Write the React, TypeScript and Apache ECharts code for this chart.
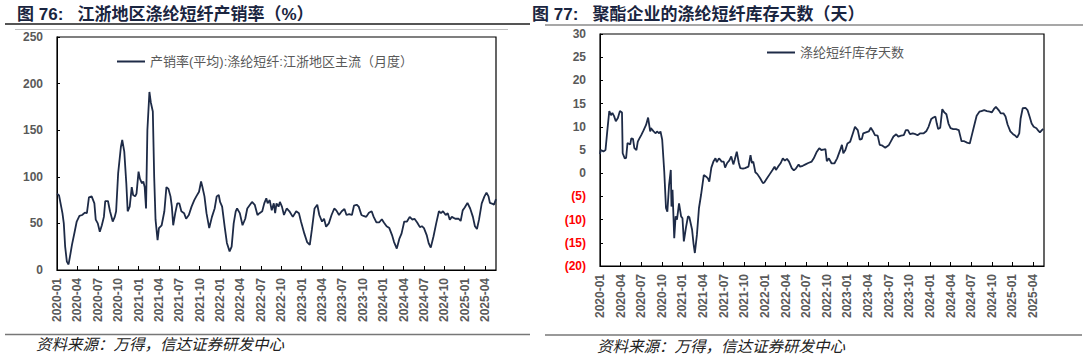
import React, { useEffect, useRef } from "react";
import * as echarts from "echarts";

// ---- Data (x = months since 2020-01, fractional) ----
const salesMonth = [
  0.0, 0.3, 0.8, 1.0, 1.2, 1.45, 1.7, 1.9, 2.2, 2.6, 2.9, 3.3, 3.7, 4.1, 4.4, 4.7, 5.1, 5.5, 5.7, 6.0,
  6.3, 6.6, 6.9, 7.1, 7.5, 7.8, 8.2, 8.5, 8.7, 9.0, 9.4, 9.6, 9.9, 10.2, 10.4, 10.7, 11.0, 11.2, 11.5, 11.7,
  12.0, 12.2, 12.5, 12.7, 12.9, 13.1, 13.3, 13.6, 13.8, 14.1, 14.3, 14.5, 14.8, 15.0, 15.4, 15.8, 16.1, 16.4, 16.7, 16.9,
  17.1, 17.4, 17.7, 18.0, 18.3, 18.7, 19.0, 19.4, 19.8, 20.2, 20.5, 20.9, 21.2, 21.4, 21.7, 22.0, 22.4, 22.8, 23.2, 23.5,
  23.8, 24.0, 24.3, 24.7, 25.0, 25.4, 25.7, 26.0, 26.3, 26.5, 26.9, 27.3, 27.7, 28.0, 28.4, 28.7, 29.1, 29.5, 29.8, 30.2,
  30.5, 30.8, 31.0, 31.3, 31.6, 31.9, 32.1, 32.3, 32.6, 32.8, 33.1, 33.4, 33.8, 34.2, 34.7, 35.2, 35.6, 35.9, 36.4, 36.8,
  37.2, 37.5, 37.9, 38.3, 38.6, 39.0, 39.3, 39.6, 40.0, 40.4, 40.8, 41.1, 41.5, 41.9, 42.3, 42.6, 43.0, 43.4, 43.7, 44.1,
  44.4, 44.8, 45.1, 45.5, 45.9, 46.3, 46.6, 47.0, 47.4, 47.8, 48.1, 48.5, 48.9, 49.3, 49.6, 50.0, 50.4, 50.7, 51.1, 51.5,
  51.9, 52.3, 52.6, 53.0, 53.4, 53.7, 54.0, 54.4, 54.7, 55.0, 55.4, 55.8, 56.2, 56.5, 56.8, 57.2, 57.5, 57.8, 58.1, 58.6,
  59.1, 59.4, 59.7, 60.0, 60.4, 60.8, 61.2, 61.5, 61.8, 62.1, 62.5, 62.9, 63.2, 63.5, 63.7, 64.1, 64.3, 64.6,
];
const salesRate = [
  82, 80, 61, 50, 25, 9, 6, 14, 27, 41, 52, 58, 59, 61.5, 61, 78, 79, 71.5, 54, 50,
  41, 48, 57, 74, 74, 63, 52, 57, 63, 104, 132, 139.5, 127, 93, 63, 68, 89, 80.5, 79, 82,
  105.5, 98, 93, 95, 89, 66, 150, 191, 180, 170, 100, 54, 32, 45, 48, 63, 89, 87, 79, 68,
  48, 61, 71.5, 71.5, 63, 61, 55, 59, 68, 75, 79, 84, 95, 89, 79, 61, 45, 57, 66, 79,
  80.5, 73, 68, 45, 29, 20, 25, 50, 63, 66, 61, 48, 55, 66, 70, 73, 70, 59, 61, 63,
  71.5, 77, 71.5, 75, 64, 71.5, 61, 71.5, 68, 73, 68, 59, 66, 63, 57, 63, 61, 52, 39, 30,
  27, 43, 66, 70, 59, 52, 55, 46.5, 50, 59, 66, 64, 59, 63, 65.5, 59, 60, 59, 69, 70,
  68, 59, 58, 57, 61.5, 63, 57, 51, 51, 54.5, 51, 47, 45, 37.5, 30, 23, 34, 39, 52, 52,
  57, 54, 55, 51, 46, 47, 45, 37.5, 28.6, 24, 36, 50, 63, 61, 63, 59, 61, 54, 57, 55,
  55, 52.6, 64, 67, 72, 66, 57, 47, 44, 54, 71.5, 79, 83, 79, 72, 71, 70, 76,
];

const invMonth = [
  0.0, 0.1, 0.5, 0.8, 1.1, 1.35, 1.6, 1.8, 2.05, 2.3, 2.6, 2.9, 3.2, 3.3, 3.6, 3.8, 4.0, 4.4, 4.55, 4.8,
  5.0, 5.3, 5.5, 5.7, 6.0, 6.3, 6.7, 7.0, 7.3, 7.4, 7.8, 8.1, 8.3, 8.6, 8.8, 9.05, 9.35, 9.6, 9.8, 10.05,
  10.3, 10.4, 10.55, 10.8, 11.0, 11.2, 11.5, 11.8, 12.0, 12.2, 12.5, 12.8, 13.0, 13.4, 13.6, 13.8, 14.1, 14.4, 14.7, 15.1,
  15.4, 15.7, 15.9, 16.2, 16.5, 16.8, 17.0, 17.3, 17.5, 17.7, 18.0, 18.2, 18.5, 18.8, 19.1, 19.4, 19.6, 19.9, 20.2, 20.4,
  20.8, 21.1, 21.6, 21.9, 22.1, 22.3, 22.6, 22.9, 23.3, 23.7, 23.9, 24.3, 24.7, 25.1, 25.4, 25.6, 26.0, 26.3, 26.6, 26.9,
  27.2, 27.5, 27.9, 28.2, 28.5, 28.9, 29.1, 29.5, 29.9, 30.3, 30.8, 31.1, 31.5, 31.9, 32.2, 32.5, 32.8, 33.0, 33.3, 33.7,
  34.1, 34.5, 34.9, 35.2, 35.4, 35.7, 36.0, 36.4, 36.8, 37.1, 37.5, 37.8, 38.1, 38.3, 38.7, 39.1, 39.4, 39.7, 40.0, 40.4,
  40.7, 41.0, 41.5, 42.0, 42.3, 42.7, 43.1, 43.4, 43.8, 44.2, 44.5, 44.8, 45.1, 45.5, 45.9, 46.2, 46.6, 47.1, 47.5, 47.8,
  48.2, 48.5, 48.8, 49.0, 49.2, 49.5, 49.8, 50.1, 50.4, 50.7, 51.0, 51.4, 51.8, 52.2, 52.4, 52.6, 53.0, 53.4, 53.8, 54.1,
  54.4, 54.8, 55.2, 55.5, 55.9, 56.3, 56.7, 57.0, 57.3, 57.6, 58.0, 58.3, 58.7, 59.0, 59.3, 59.7, 60.1, 60.4, 60.7, 61.0,
  61.2, 61.5, 61.9, 62.2, 62.5, 62.8, 63.1, 63.5, 63.8, 64.0, 64.3, 64.5,
];
const invDays = [
  4.1, 5.0, 4.7, 5.0, 9.7, 13.4, 12.5, 13.0, 12.3, 11.2, 11.9, 13.4, 13.1, 4.3, 3.2, 3.3, 6.5, 6.2, 7.5, 7.4,
  5.4, 5.0, 6.8, 7.4, 8.2, 9.1, 10.4, 12.0, 9.0, 9.7, 9.0, 8.6, 9.0, 8.6, 9.0, 7.2, 0.3, -7.5, -8.3, -2.5,
  0.7, -7.2, -3.6, -14.0, -9.3, -10.0, -6.5, -9.3, -9.7, -14.7, -11.8, -9.3, -9.5, -12.2, -15.1, -17.2, -13.3, -7.5, -4.7, -0.4,
  -0.7, -1.1, -1.8, 1.2, 2.5, 3.2, 2.4, 3.2, 2.9, 2.5, 2.5, 1.2, 2.2, 2.7, 3.6, 1.9, 2.9, 4.65, 2.2, 1.1,
  1.0, 1.1, 1.4, 3.9, 2.2, 2.5, 0.2, -0.2, -1.1, -2.15, -2.0, -1.1, -0.2, 0.7, 1.4, 0.7, 1.6, 2.2, 3.2, 2.7,
  3.1, 2.5, 1.1, 0.6, 1.0, 1.9, 1.4, 1.6, 1.9, 2.2, 2.5, 3.2, 4.5, 5.4, 5.0, 5.1, 5.2, 2.6, 3.2, 2.1,
  2.1, 3.2, 4.8, 6.1, 4.3, 5.0, 6.4, 6.8, 8.6, 10.0, 9.3, 7.2, 7.4, 8.6, 8.8, 9.0, 9.8, 9.1, 8.2, 8.1,
  6.1, 6.0, 5.5, 6.0, 6.8, 7.9, 8.4, 7.9, 8.1, 8.2, 9.3, 9.3, 8.4, 8.6, 8.4, 8.2, 8.6, 8.6, 9.1, 10.0,
  11.7, 12.0, 12.2, 10.7, 9.5, 9.8, 13.8, 13.1, 12.7, 10.7, 9.7, 9.5, 9.5, 9.3, 8.1, 6.9, 6.9, 6.6, 6.4, 8.2,
  10.0, 12.4, 13.25, 13.4, 13.6, 13.4, 13.25, 13.1, 13.8, 14.3, 13.6, 12.9, 12.9, 12.2, 10.5, 9.0, 8.4, 8.1, 7.7, 8.6,
  11.8, 14.0, 14.1, 13.6, 12.2, 10.7, 10.0, 9.7, 9.1, 8.8, 9.3, 9.5,
];

const startYear = 2020;
const monthSpan = 64.6;
const salesName = "产销率(平均):涤纶短纤:江浙地区主流（月度）";
const invName = "涤纶短纤库存天数";
const leftTitle = "图 76:   江浙地区涤纶短纤产销率（%）";
const rightTitle = "图 77:   聚酯企业的涤纶短纤库存天数（天）";
const sourceText = "资料来源：万得，信达证券研发中心";

const FONT = '"Liberation Sans", Arial, "Noto Sans CJK SC", sans-serif';
const LINE_COLOR = "#1e2b47";
const LABEL_COLOR = "#595959";

function monthLabel(v: number): string {
  const r = Math.round(v);
  if (Math.abs(v - r) > 1e-6 || r % 3 !== 0) return "";
  const y = startYear + Math.floor(r / 12);
  const m = (r % 12) + 1;
  return `${y}-${m < 10 ? "0" + m : m}`;
}

function xAxisCfg(gridIndex: number) {
  return {
    type: "value",
    gridIndex,
    min: 0,
    max: monthSpan,
    interval: 3,
    axisLine: { show: true, onZero: false, lineStyle: { color: "#000", width: 1 } },
    axisTick: { show: true, inside: true, length: 4, lineStyle: { color: "#000" } },
    axisLabel: {
      rotate: 90,
      formatter: monthLabel,
      color: LABEL_COLOR,
      fontSize: 12,
      fontWeight: "bold",
      fontFamily: FONT,
      margin: 8,
      showMaxLabel: false,
    },
    splitLine: { show: false },
  };
}

function legendCfg(name: string, left: number, top: number) {
  return {
    data: [name],
    left,
    top,
    icon: "rect",
    itemWidth: 28,
    itemHeight: 2,
    itemGap: 4,
    itemStyle: { color: LINE_COLOR },
    textStyle: { color: LABEL_COLOR, fontSize: 13, fontFamily: FONT },
  };
}

export default function App() {
  const ref = useRef<HTMLDivElement>(null);
  useEffect(() => {
    if (!ref.current) return;
    const chart = echarts.init(ref.current, undefined, { renderer: "svg" });
    const salesData = salesMonth.map((m, i) => [m, salesRate[i]]);
    const invData = invMonth.map((m, i) => [m, invDays[i]]);
    chart.setOption({
      animation: false,
      grid: [
        { left: 57, top: 37, width: 439, height: 233, show: true, borderColor: "#000", borderWidth: 1.2, backgroundColor: "transparent" },
        { left: 600, top: 34, width: 444, height: 232, show: true, borderColor: "#000", borderWidth: 1.2, backgroundColor: "transparent" },
      ],
      xAxis: [xAxisCfg(0), xAxisCfg(1)],
      yAxis: [
        {
          type: "value",
          gridIndex: 0,
          min: 0,
          max: 250,
          interval: 50,
          axisLine: { show: true, lineStyle: { color: "#000" } },
          axisTick: { show: true, inside: true, length: 3, lineStyle: { color: "#000" } },
          axisLabel: { color: LABEL_COLOR, fontSize: 12, fontWeight: "bold", fontFamily: FONT, margin: 14 },
          splitLine: { show: false },
        },
        {
          type: "value",
          gridIndex: 1,
          min: -20,
          max: 30,
          interval: 5,
          axisLine: { show: true, lineStyle: { color: "#000" } },
          axisTick: { show: true, inside: true, length: 3, lineStyle: { color: "#000" } },
          axisLabel: {
            fontSize: 12,
            fontWeight: "bold",
            fontFamily: FONT,
            margin: 14,
            formatter: (v: number) => (v < 0 ? `{neg|(${-v})}` : `{pos|${v}}`),
            rich: {
              neg: { color: "#ff0000", fontSize: 12, fontWeight: "bold", fontFamily: FONT },
              pos: { color: LABEL_COLOR, fontSize: 12, fontWeight: "bold", fontFamily: FONT },
            },
          },
          splitLine: { show: false },
        },
      ],
      legend: [legendCfg(salesName, 112, 50), legendCfg(invName, 762, 41)],
      series: [
        {
          name: salesName,
          type: "line",
          xAxisIndex: 0,
          yAxisIndex: 0,
          data: salesData,
          symbol: "none",
          lineStyle: { color: LINE_COLOR, width: 1.8 },
          itemStyle: { color: LINE_COLOR },
        },
        {
          name: invName,
          type: "line",
          xAxisIndex: 1,
          yAxisIndex: 1,
          data: invData,
          symbol: "none",
          lineStyle: { color: LINE_COLOR, width: 1.8 },
          itemStyle: { color: LINE_COLOR },
        },
      ],
      graphic: [
        { type: "text", x: 17, y: 14, style: { text: leftTitle, font: `bold 17px ${FONT}`, fill: "#1a2540", verticalAlign: "middle" } },
        { type: "text", x: 532, y: 14, style: { text: rightTitle, font: `bold 17px ${FONT}`, fill: "#1a2540", verticalAlign: "middle" } },
        { type: "line", shape: { x1: 5, y1: 24, x2: 530, y2: 24 }, style: { stroke: "#555", lineWidth: 2 } },
        { type: "line", shape: { x1: 15, y1: 29.5, x2: 508, y2: 29.5 }, style: { stroke: "#c0c0c0", lineWidth: 1 } },
        { type: "line", shape: { x1: 545, y1: 25, x2: 1083, y2: 25 }, style: { stroke: "#8a8a8a", lineWidth: 1.5 } },
        { type: "line", shape: { x1: 5, y1: 334.5, x2: 530, y2: 334.5 }, style: { stroke: "#777", lineWidth: 1.5 } },
        { type: "line", shape: { x1: 545, y1: 335, x2: 1082, y2: 335 }, style: { stroke: "#777", lineWidth: 1.5 } },
        { type: "text", x: 36, y: 343, style: { text: sourceText, font: `italic 15.5px "Noto Sans CJK SC", sans-serif`, fill: "#222", verticalAlign: "middle" } },
        { type: "text", x: 597, y: 345, style: { text: sourceText, font: `italic 15.5px "Noto Sans CJK SC", sans-serif`, fill: "#222", verticalAlign: "middle" } },
      ],
    });
    return () => chart.dispose();
  }, []);
  return <div ref={ref} style={{ position: "absolute", left: 0, top: 0, width: 1088, height: 357 }} />;
}
